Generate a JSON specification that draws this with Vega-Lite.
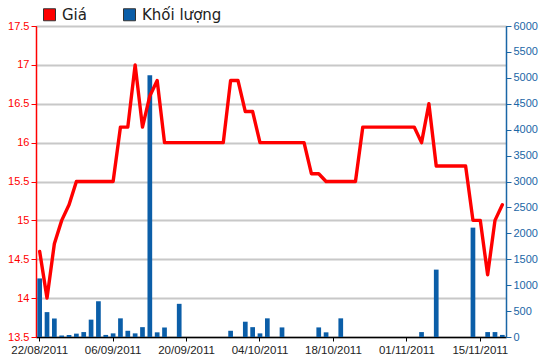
{
  "$schema": "https://vega.github.io/schema/vega-lite/v6.json",
  "autosize": {"type": "none"},
  "width": 470,
  "height": 311,
  "padding": {"left": 36, "top": 26, "right": 44, "bottom": 27},
  "background": "#ffffff",
  "config": {
    "view": {"stroke": "#000000", "strokeWidth": 1},
    "font": "Liberation Sans"
  },
  "datasets": {
    "trade": [
      {"d": "22/08/2011", "p": 14.6, "v": 1130},
      {"d": "23/08/2011", "p": 14.0, "v": 480},
      {"d": "24/08/2011", "p": 14.7, "v": 355},
      {"d": "25/08/2011", "p": 15.0, "v": 30},
      {"d": "26/08/2011", "p": 15.2, "v": 40},
      {"d": "29/08/2011", "p": 15.5, "v": 65},
      {"d": "30/08/2011", "p": 15.5, "v": 95},
      {"d": "31/08/2011", "p": 15.5, "v": 335},
      {"d": "01/09/2011", "p": 15.5, "v": 690},
      {"d": "05/09/2011", "p": 15.5, "v": 40},
      {"d": "06/09/2011", "p": 15.5, "v": 70},
      {"d": "07/09/2011", "p": 16.2, "v": 360},
      {"d": "08/09/2011", "p": 16.2, "v": 120},
      {"d": "09/09/2011", "p": 17.0, "v": 70},
      {"d": "12/09/2011", "p": 16.2, "v": 190},
      {"d": "13/09/2011", "p": 16.6, "v": 5050},
      {"d": "14/09/2011", "p": 16.8, "v": 90},
      {"d": "15/09/2011", "p": 16.0, "v": 185},
      {"d": "16/09/2011", "p": 16.0, "v": 0},
      {"d": "19/09/2011", "p": 16.0, "v": 640},
      {"d": "20/09/2011", "p": 16.0, "v": 0},
      {"d": "21/09/2011", "p": 16.0, "v": 0},
      {"d": "22/09/2011", "p": 16.0, "v": 0},
      {"d": "23/09/2011", "p": 16.0, "v": 0},
      {"d": "26/09/2011", "p": 16.0, "v": 0},
      {"d": "27/09/2011", "p": 16.0, "v": 0},
      {"d": "28/09/2011", "p": 16.8, "v": 120},
      {"d": "29/09/2011", "p": 16.8, "v": 0},
      {"d": "30/09/2011", "p": 16.4, "v": 295},
      {"d": "03/10/2011", "p": 16.4, "v": 190},
      {"d": "04/10/2011", "p": 16.0, "v": 70},
      {"d": "05/10/2011", "p": 16.0, "v": 360},
      {"d": "06/10/2011", "p": 16.0, "v": 0},
      {"d": "07/10/2011", "p": 16.0, "v": 185},
      {"d": "10/10/2011", "p": 16.0, "v": 0},
      {"d": "11/10/2011", "p": 16.0, "v": 0},
      {"d": "12/10/2011", "p": 16.0, "v": 0},
      {"d": "13/10/2011", "p": 15.6, "v": 0},
      {"d": "14/10/2011", "p": 15.6, "v": 185},
      {"d": "17/10/2011", "p": 15.5, "v": 90},
      {"d": "18/10/2011", "p": 15.5, "v": 0},
      {"d": "19/10/2011", "p": 15.5, "v": 360},
      {"d": "20/10/2011", "p": 15.5, "v": 0},
      {"d": "21/10/2011", "p": 15.5, "v": 0},
      {"d": "24/10/2011", "p": 16.2, "v": 0},
      {"d": "25/10/2011", "p": 16.2, "v": 0},
      {"d": "26/10/2011", "p": 16.2, "v": 0},
      {"d": "27/10/2011", "p": 16.2, "v": 0},
      {"d": "28/10/2011", "p": 16.2, "v": 0},
      {"d": "31/10/2011", "p": 16.2, "v": 0},
      {"d": "01/11/2011", "p": 16.2, "v": 0},
      {"d": "02/11/2011", "p": 16.2, "v": 0},
      {"d": "03/11/2011", "p": 16.0, "v": 95},
      {"d": "04/11/2011", "p": 16.5, "v": 0},
      {"d": "07/11/2011", "p": 15.7, "v": 1300},
      {"d": "08/11/2011", "p": 15.7, "v": 0},
      {"d": "09/11/2011", "p": 15.7, "v": 0},
      {"d": "10/11/2011", "p": 15.7, "v": 0},
      {"d": "11/11/2011", "p": 15.7, "v": 0},
      {"d": "14/11/2011", "p": 15.0, "v": 2110},
      {"d": "15/11/2011", "p": 15.0, "v": 0},
      {"d": "16/11/2011", "p": 14.3, "v": 95},
      {"d": "17/11/2011", "p": 15.0, "v": 95},
      {"d": "18/11/2011", "p": 15.2, "v": 40}
    ],
    "series": [{"s": "Giá"}, {"s": "Khối lượng"}]
  },
  "layer": [
    {
      "data": {"name": "trade"},
      "mark": {"type": "bar", "color": "#0b5ea8"},
      "encoding": {
        "x": {
          "field": "d", "type": "ordinal", "sort": null,
          "scale": {"paddingInner": 0.36, "paddingOuter": 0.18},
          "axis": {
            "title": null,
            "values": ["22/08/2011", "06/09/2011", "20/09/2011", "04/10/2011", "18/10/2011", "01/11/2011", "15/11/2011"],
            "labelAngle": 0,
            "labelFontSize": 11.5,
            "labelColor": "#222222",
            "labelPadding": 3,
            "tickColor": "#000000",
            "tickSize": 4,
            "domainColor": "#000000",
            "domainWidth": 1.5,
            "grid": false
          }
        },
        "y": {
          "field": "v", "type": "quantitative",
          "scale": {"domain": [0, 6000], "nice": false},
          "axis": {
            "orient": "right",
            "title": null,
            "values": [0, 500, 1000, 1500, 2000, 2500, 3000, 3500, 4000, 4500, 5000, 5500, 6000],
            "format": "d",
            "labelFontSize": 11,
            "labelColor": "#1a66a6",
            "tickColor": "#1a66a6",
            "tickSize": 5,
            "domainColor": "#1a66a6",
            "domainWidth": 1.5,
            "labelPadding": 2,
            "grid": false
          }
        }
      }
    },
    {
      "data": {"name": "trade"},
      "mark": {"type": "line", "color": "#ff0000", "strokeWidth": 3.4, "strokeJoin": "round", "strokeCap": "round"},
      "encoding": {
        "x": {"field": "d", "type": "ordinal", "sort": null},
        "y": {
          "field": "p", "type": "quantitative",
          "scale": {"domain": [13.5, 17.5], "nice": false, "zero": false},
          "axis": {
            "orient": "left",
            "title": null,
            "values": [13.5, 14, 14.5, 15, 15.5, 16, 16.5, 17, 17.5],
            "format": "~g",
            "labelFontSize": 11,
            "labelColor": "#ff0000",
            "tickColor": "#ff0000",
            "tickSize": 5,
            "domainColor": "#ff0000",
            "domainWidth": 1.5,
            "labelPadding": 2,
            "grid": true,
            "gridColor": "#c8c8c8",
            "gridWidth": 2
          }
        }
      }
    },
    {
      "data": {"name": "series"},
      "mark": {"type": "square", "opacity": 0, "filled": true},
      "encoding": {
        "color": {
          "field": "s", "type": "nominal", "sort": null,
          "scale": {"domain": ["Giá", "Khối lượng"], "range": ["#ff0000", "#0b5ea8"]},
          "legend": {
            "title": null,
            "orient": "none",
            "legendX": 6,
            "legendY": -19,
            "direction": "horizontal",
            "symbolType": "square",
            "symbolSize": 144,
            "symbolOpacity": 1,
            "symbolStrokeColor": "#333333",
            "symbolStrokeWidth": 1,
            "labelFont": "DejaVu Sans",
            "labelFontSize": 15,
            "labelColor": "#222222",
            "labelOffset": 5,
            "columnPadding": 34
          }
        }
      }
    }
  ],
  "resolve": {"scale": {"y": "independent"}}
}
